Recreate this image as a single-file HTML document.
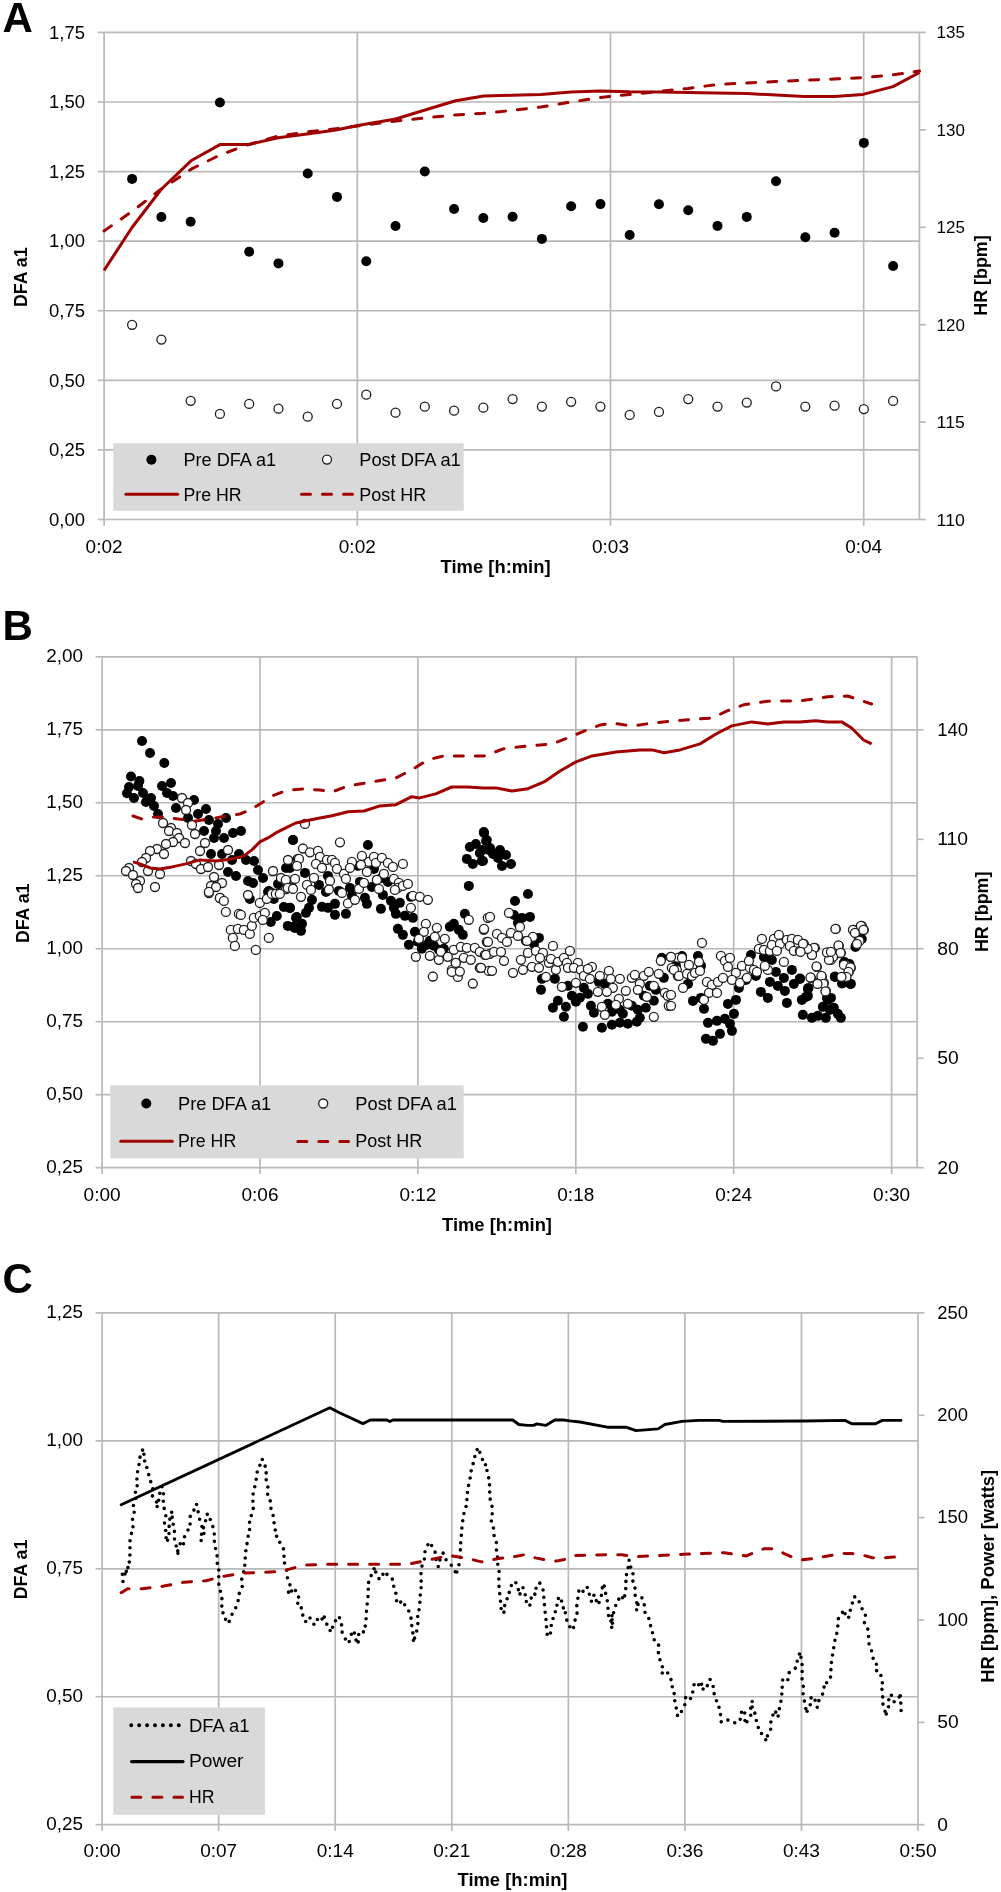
<!DOCTYPE html>
<html><head><meta charset="utf-8"><style>html,body{margin:0;padding:0;background:#fff;}svg{display:block;will-change:transform;}text{font-family:"Liberation Sans", sans-serif;}</style></head>
<body>
<svg width="1001" height="1892" viewBox="0 0 1001 1892" font-family='"Liberation Sans", sans-serif'>
<rect width="1001" height="1892" fill="#fff"/>
<line x1="104.1" y1="32.4" x2="919.4" y2="32.4" stroke="#b9b9b9" stroke-width="1.7" />
<line x1="97.6" y1="32.4" x2="104.1" y2="32.4" stroke="#b9b9b9" stroke-width="1.7" />
<line x1="104.1" y1="101.99" x2="919.4" y2="101.99" stroke="#b9b9b9" stroke-width="1.7" />
<line x1="97.6" y1="101.99" x2="104.1" y2="101.99" stroke="#b9b9b9" stroke-width="1.7" />
<line x1="104.1" y1="171.57" x2="919.4" y2="171.57" stroke="#b9b9b9" stroke-width="1.7" />
<line x1="97.6" y1="171.57" x2="104.1" y2="171.57" stroke="#b9b9b9" stroke-width="1.7" />
<line x1="104.1" y1="241.16" x2="919.4" y2="241.16" stroke="#b9b9b9" stroke-width="1.7" />
<line x1="97.6" y1="241.16" x2="104.1" y2="241.16" stroke="#b9b9b9" stroke-width="1.7" />
<line x1="104.1" y1="310.74" x2="919.4" y2="310.74" stroke="#b9b9b9" stroke-width="1.7" />
<line x1="97.6" y1="310.74" x2="104.1" y2="310.74" stroke="#b9b9b9" stroke-width="1.7" />
<line x1="104.1" y1="380.33" x2="919.4" y2="380.33" stroke="#b9b9b9" stroke-width="1.7" />
<line x1="97.6" y1="380.33" x2="104.1" y2="380.33" stroke="#b9b9b9" stroke-width="1.7" />
<line x1="104.1" y1="449.91" x2="919.4" y2="449.91" stroke="#b9b9b9" stroke-width="1.7" />
<line x1="97.6" y1="449.91" x2="104.1" y2="449.91" stroke="#b9b9b9" stroke-width="1.7" />
<line x1="104.1" y1="519.5" x2="919.4" y2="519.5" stroke="#b9b9b9" stroke-width="1.7" />
<line x1="97.6" y1="519.5" x2="104.1" y2="519.5" stroke="#b9b9b9" stroke-width="1.7" />
<line x1="357.3" y1="32.4" x2="357.3" y2="519.5" stroke="#b9b9b9" stroke-width="1.7" />
<line x1="357.3" y1="519.5" x2="357.3" y2="525.8" stroke="#b9b9b9" stroke-width="1.7" />
<line x1="610.5" y1="32.4" x2="610.5" y2="519.5" stroke="#b9b9b9" stroke-width="1.7" />
<line x1="610.5" y1="519.5" x2="610.5" y2="525.8" stroke="#b9b9b9" stroke-width="1.7" />
<line x1="863.7" y1="32.4" x2="863.7" y2="519.5" stroke="#b9b9b9" stroke-width="1.7" />
<line x1="863.7" y1="519.5" x2="863.7" y2="525.8" stroke="#b9b9b9" stroke-width="1.7" />
<line x1="104.1" y1="32.4" x2="104.1" y2="525.8" stroke="#b9b9b9" stroke-width="1.7" />
<line x1="919.4" y1="32.4" x2="919.4" y2="519.5" stroke="#b9b9b9" stroke-width="1.7" />
<line x1="919.4" y1="32.4" x2="925.9" y2="32.4" stroke="#b9b9b9" stroke-width="1.7" />
<line x1="919.4" y1="129.82" x2="925.9" y2="129.82" stroke="#b9b9b9" stroke-width="1.7" />
<line x1="919.4" y1="227.24" x2="925.9" y2="227.24" stroke="#b9b9b9" stroke-width="1.7" />
<line x1="919.4" y1="324.66" x2="925.9" y2="324.66" stroke="#b9b9b9" stroke-width="1.7" />
<line x1="919.4" y1="422.08" x2="925.9" y2="422.08" stroke="#b9b9b9" stroke-width="1.7" />
<line x1="919.4" y1="519.5" x2="925.9" y2="519.5" stroke="#b9b9b9" stroke-width="1.7" />
<text x="85" y="38.6" font-size="17.7" text-anchor="end" textLength="36" lengthAdjust="spacingAndGlyphs">1,75</text>
<text x="85" y="108.19" font-size="17.7" text-anchor="end" textLength="36" lengthAdjust="spacingAndGlyphs">1,50</text>
<text x="85" y="177.77" font-size="17.7" text-anchor="end" textLength="36" lengthAdjust="spacingAndGlyphs">1,25</text>
<text x="85" y="247.36" font-size="17.7" text-anchor="end" textLength="36" lengthAdjust="spacingAndGlyphs">1,00</text>
<text x="85" y="316.94" font-size="17.7" text-anchor="end" textLength="36" lengthAdjust="spacingAndGlyphs">0,75</text>
<text x="85" y="386.53" font-size="17.7" text-anchor="end" textLength="36" lengthAdjust="spacingAndGlyphs">0,50</text>
<text x="85" y="456.11" font-size="17.7" text-anchor="end" textLength="36" lengthAdjust="spacingAndGlyphs">0,25</text>
<text x="85" y="525.7" font-size="17.7" text-anchor="end" textLength="36" lengthAdjust="spacingAndGlyphs">0,00</text>
<text x="936.6" y="38.4" font-size="17.2" textLength="28.3" lengthAdjust="spacingAndGlyphs">135</text>
<text x="936.6" y="135.82" font-size="17.2" textLength="28.3" lengthAdjust="spacingAndGlyphs">130</text>
<text x="936.6" y="233.24" font-size="17.2" textLength="28.3" lengthAdjust="spacingAndGlyphs">125</text>
<text x="936.6" y="330.66" font-size="17.2" textLength="28.3" lengthAdjust="spacingAndGlyphs">120</text>
<text x="936.6" y="428.08" font-size="17.2" textLength="28.3" lengthAdjust="spacingAndGlyphs">115</text>
<text x="936.6" y="525.5" font-size="17.2" textLength="28.3" lengthAdjust="spacingAndGlyphs">110</text>
<text x="104.1" y="552.6" font-size="18.3" text-anchor="middle" textLength="37" lengthAdjust="spacingAndGlyphs">0:02</text>
<text x="357.3" y="552.6" font-size="18.3" text-anchor="middle" textLength="37" lengthAdjust="spacingAndGlyphs">0:02</text>
<text x="610.5" y="552.6" font-size="18.3" text-anchor="middle" textLength="37" lengthAdjust="spacingAndGlyphs">0:03</text>
<text x="863.7" y="552.6" font-size="18.3" text-anchor="middle" textLength="37" lengthAdjust="spacingAndGlyphs">0:04</text>
<text x="440.6" y="573" font-size="18.3" font-weight="bold" textLength="110" lengthAdjust="spacingAndGlyphs">Time [h:min]</text>
<text x="26.6" y="277.3" font-size="18.3" text-anchor="middle" font-weight="bold" textLength="59.6" lengthAdjust="spacingAndGlyphs" transform="rotate(-90 26.6 277.3)">DFA a1</text>
<text x="986.6" y="275.5" font-size="18.3" text-anchor="middle" font-weight="bold" textLength="80.5" lengthAdjust="spacingAndGlyphs" transform="rotate(-90 986.6 275.5)">HR [bpm]</text>
<text x="2.5" y="32.2" font-size="42" font-weight="bold">A</text>
<g fill="#000"><circle cx="132.1" cy="178.9" r="5"/><circle cx="161.37" cy="217" r="5"/><circle cx="190.64" cy="221.7" r="5"/><circle cx="219.91" cy="102.5" r="5"/><circle cx="249.18" cy="251.7" r="5"/><circle cx="278.45" cy="263.4" r="5"/><circle cx="307.72" cy="173.5" r="5"/><circle cx="336.99" cy="196.9" r="5"/><circle cx="366.26" cy="261.3" r="5"/><circle cx="395.53" cy="226" r="5"/><circle cx="424.8" cy="171.5" r="5"/><circle cx="454.07" cy="209" r="5"/><circle cx="483.34" cy="218" r="5"/><circle cx="512.61" cy="216.7" r="5"/><circle cx="541.88" cy="238.9" r="5"/><circle cx="571.15" cy="206.2" r="5"/><circle cx="600.42" cy="204.1" r="5"/><circle cx="629.69" cy="235" r="5"/><circle cx="658.96" cy="204.3" r="5"/><circle cx="688.23" cy="210.3" r="5"/><circle cx="717.5" cy="225.9" r="5"/><circle cx="746.77" cy="216.9" r="5"/><circle cx="776.04" cy="181.3" r="5"/><circle cx="805.31" cy="237.3" r="5"/><circle cx="834.58" cy="232.8" r="5"/><circle cx="863.85" cy="142.9" r="5"/><circle cx="893.12" cy="266" r="5"/></g>
<g fill="#fff" stroke="#1e1e1e" stroke-width="1.3"><circle cx="132.1" cy="324.8" r="4.5"/><circle cx="161.37" cy="339.6" r="4.5"/><circle cx="190.64" cy="400.8" r="4.5"/><circle cx="219.91" cy="413.9" r="4.5"/><circle cx="249.18" cy="403.9" r="4.5"/><circle cx="278.45" cy="408.7" r="4.5"/><circle cx="307.72" cy="416.7" r="4.5"/><circle cx="336.99" cy="403.9" r="4.5"/><circle cx="366.26" cy="394.7" r="4.5"/><circle cx="395.53" cy="412.7" r="4.5"/><circle cx="424.8" cy="406.7" r="4.5"/><circle cx="454.07" cy="410.7" r="4.5"/><circle cx="483.34" cy="407.7" r="4.5"/><circle cx="512.61" cy="399.1" r="4.5"/><circle cx="541.88" cy="406.6" r="4.5"/><circle cx="571.15" cy="401.8" r="4.5"/><circle cx="600.42" cy="406.6" r="4.5"/><circle cx="629.69" cy="414.9" r="4.5"/><circle cx="658.96" cy="411.9" r="4.5"/><circle cx="688.23" cy="399.1" r="4.5"/><circle cx="717.5" cy="406.6" r="4.5"/><circle cx="746.77" cy="402.6" r="4.5"/><circle cx="776.04" cy="386.4" r="4.5"/><circle cx="805.31" cy="406.6" r="4.5"/><circle cx="834.58" cy="405.7" r="4.5"/><circle cx="863.85" cy="409.1" r="4.5"/><circle cx="893.12" cy="400.9" r="4.5"/></g>
<polyline points="104,270.5 132,227.5 161.5,189 191,160.8 220,144.6 248.5,144.6 278,137.8 307,134 336,130 357.7,125.5 395.7,119 425,110 455.6,100.8 483.6,96 512,95.3 541,94.5 571,92 600,90.9 629.6,91.8 659,92 688,92.5 717,93 747,93.5 776,95 804,96.4 834,96.4 863,94.4 893,86.6 919.5,72.5" fill="none" stroke="#a00000" stroke-width="3" stroke-linecap="butt" stroke-linejoin="round"/>
<polyline points="104,231 132,211.5 160,190 192,168.7 220,155 248,144.7 278,136 307,132 336,128.7 366,125 396,121 425,118 454,115 483,113.3 512,110.5 541,107 571,102 600,97.5 629.6,94.5 659,91.5 688,88.4 717,84.5 747,83 776,81.5 804,80.3 834,79 863,77.6 893,74.9 919.5,71" fill="none" stroke="#a00000" stroke-width="3" stroke-linecap="round" stroke-linejoin="round" stroke-dasharray="9 12"/>
<rect x="113.3" y="443.3" width="350.4" height="67.5" fill="#d9d9d9"/>
<g fill="#000"><circle cx="151.4" cy="459.8" r="5"/></g>
<g fill="#fff" stroke="#1e1e1e" stroke-width="1.3"><circle cx="327" cy="459.6" r="4.5"/></g>
<text x="183.4" y="466.1" font-size="18.3" textLength="92.8" lengthAdjust="spacingAndGlyphs">Pre DFA a1</text>
<text x="359.2" y="466.1" font-size="18.3" textLength="101.6" lengthAdjust="spacingAndGlyphs">Post DFA a1</text>
<line x1="125.9" y1="494.2" x2="177.7" y2="494.2" stroke="#a00000" stroke-width="3" stroke-linecap="round"/>
<line x1="301.5" y1="494.2" x2="352.5" y2="494.2" stroke="#a00000" stroke-width="3" stroke-dasharray="9 12" stroke-linecap="round"/>
<text x="183.4" y="500.6" font-size="18.3" textLength="58.2" lengthAdjust="spacingAndGlyphs">Pre HR</text>
<text x="359.2" y="500.6" font-size="18.3" textLength="67" lengthAdjust="spacingAndGlyphs">Post HR</text>
<line x1="102.1" y1="656.8" x2="917.1" y2="656.8" stroke="#b9b9b9" stroke-width="1.7" />
<line x1="95.6" y1="656.8" x2="102.1" y2="656.8" stroke="#b9b9b9" stroke-width="1.7" />
<line x1="102.1" y1="729.79" x2="917.1" y2="729.79" stroke="#b9b9b9" stroke-width="1.7" />
<line x1="95.6" y1="729.79" x2="102.1" y2="729.79" stroke="#b9b9b9" stroke-width="1.7" />
<line x1="102.1" y1="802.77" x2="917.1" y2="802.77" stroke="#b9b9b9" stroke-width="1.7" />
<line x1="95.6" y1="802.77" x2="102.1" y2="802.77" stroke="#b9b9b9" stroke-width="1.7" />
<line x1="102.1" y1="875.76" x2="917.1" y2="875.76" stroke="#b9b9b9" stroke-width="1.7" />
<line x1="95.6" y1="875.76" x2="102.1" y2="875.76" stroke="#b9b9b9" stroke-width="1.7" />
<line x1="102.1" y1="948.74" x2="917.1" y2="948.74" stroke="#b9b9b9" stroke-width="1.7" />
<line x1="95.6" y1="948.74" x2="102.1" y2="948.74" stroke="#b9b9b9" stroke-width="1.7" />
<line x1="102.1" y1="1021.73" x2="917.1" y2="1021.73" stroke="#b9b9b9" stroke-width="1.7" />
<line x1="95.6" y1="1021.73" x2="102.1" y2="1021.73" stroke="#b9b9b9" stroke-width="1.7" />
<line x1="102.1" y1="1094.71" x2="917.1" y2="1094.71" stroke="#b9b9b9" stroke-width="1.7" />
<line x1="95.6" y1="1094.71" x2="102.1" y2="1094.71" stroke="#b9b9b9" stroke-width="1.7" />
<line x1="102.1" y1="1167.7" x2="917.1" y2="1167.7" stroke="#b9b9b9" stroke-width="1.7" />
<line x1="95.6" y1="1167.7" x2="102.1" y2="1167.7" stroke="#b9b9b9" stroke-width="1.7" />
<line x1="260" y1="656.8" x2="260" y2="1167.7" stroke="#b9b9b9" stroke-width="1.7" />
<line x1="260" y1="1167.7" x2="260" y2="1174" stroke="#b9b9b9" stroke-width="1.7" />
<line x1="417.9" y1="656.8" x2="417.9" y2="1167.7" stroke="#b9b9b9" stroke-width="1.7" />
<line x1="417.9" y1="1167.7" x2="417.9" y2="1174" stroke="#b9b9b9" stroke-width="1.7" />
<line x1="575.8" y1="656.8" x2="575.8" y2="1167.7" stroke="#b9b9b9" stroke-width="1.7" />
<line x1="575.8" y1="1167.7" x2="575.8" y2="1174" stroke="#b9b9b9" stroke-width="1.7" />
<line x1="733.7" y1="656.8" x2="733.7" y2="1167.7" stroke="#b9b9b9" stroke-width="1.7" />
<line x1="733.7" y1="1167.7" x2="733.7" y2="1174" stroke="#b9b9b9" stroke-width="1.7" />
<line x1="891.6" y1="656.8" x2="891.6" y2="1167.7" stroke="#b9b9b9" stroke-width="1.7" />
<line x1="891.6" y1="1167.7" x2="891.6" y2="1174" stroke="#b9b9b9" stroke-width="1.7" />
<line x1="102.1" y1="656.8" x2="102.1" y2="1174" stroke="#b9b9b9" stroke-width="1.7" />
<line x1="917.1" y1="656.8" x2="917.1" y2="1167.7" stroke="#b9b9b9" stroke-width="1.7" />
<line x1="917.1" y1="729.8" x2="923.6" y2="729.8" stroke="#b9b9b9" stroke-width="1.7" />
<line x1="917.1" y1="839.28" x2="923.6" y2="839.28" stroke="#b9b9b9" stroke-width="1.7" />
<line x1="917.1" y1="948.76" x2="923.6" y2="948.76" stroke="#b9b9b9" stroke-width="1.7" />
<line x1="917.1" y1="1058.24" x2="923.6" y2="1058.24" stroke="#b9b9b9" stroke-width="1.7" />
<line x1="917.1" y1="1167.72" x2="923.6" y2="1167.72" stroke="#b9b9b9" stroke-width="1.7" />
<text x="83" y="662.1" font-size="18.3" text-anchor="end" textLength="36.8" lengthAdjust="spacingAndGlyphs">2,00</text>
<text x="83" y="735.09" font-size="18.3" text-anchor="end" textLength="36.8" lengthAdjust="spacingAndGlyphs">1,75</text>
<text x="83" y="808.07" font-size="18.3" text-anchor="end" textLength="36.8" lengthAdjust="spacingAndGlyphs">1,50</text>
<text x="83" y="881.06" font-size="18.3" text-anchor="end" textLength="36.8" lengthAdjust="spacingAndGlyphs">1,25</text>
<text x="83" y="954.04" font-size="18.3" text-anchor="end" textLength="36.8" lengthAdjust="spacingAndGlyphs">1,00</text>
<text x="83" y="1027.03" font-size="18.3" text-anchor="end" textLength="36.8" lengthAdjust="spacingAndGlyphs">0,75</text>
<text x="83" y="1100.01" font-size="18.3" text-anchor="end" textLength="36.8" lengthAdjust="spacingAndGlyphs">0,50</text>
<text x="83" y="1173" font-size="18.3" text-anchor="end" textLength="36.8" lengthAdjust="spacingAndGlyphs">0,25</text>
<text x="937.3" y="735.6" font-size="19.2" textLength="30.8" lengthAdjust="spacingAndGlyphs">140</text>
<text x="937.3" y="845.08" font-size="19.2" textLength="30.8" lengthAdjust="spacingAndGlyphs">110</text>
<text x="937.3" y="954.56" font-size="19.2" textLength="21.5" lengthAdjust="spacingAndGlyphs">80</text>
<text x="937.3" y="1064.04" font-size="19.2" textLength="21.5" lengthAdjust="spacingAndGlyphs">50</text>
<text x="937.3" y="1173.52" font-size="19.2" textLength="21.5" lengthAdjust="spacingAndGlyphs">20</text>
<text x="102.1" y="1201.1" font-size="18.3" text-anchor="middle" textLength="37" lengthAdjust="spacingAndGlyphs">0:00</text>
<text x="260" y="1201.1" font-size="18.3" text-anchor="middle" textLength="37" lengthAdjust="spacingAndGlyphs">0:06</text>
<text x="417.9" y="1201.1" font-size="18.3" text-anchor="middle" textLength="37" lengthAdjust="spacingAndGlyphs">0:12</text>
<text x="575.8" y="1201.1" font-size="18.3" text-anchor="middle" textLength="37" lengthAdjust="spacingAndGlyphs">0:18</text>
<text x="733.7" y="1201.1" font-size="18.3" text-anchor="middle" textLength="37" lengthAdjust="spacingAndGlyphs">0:24</text>
<text x="891.6" y="1201.1" font-size="18.3" text-anchor="middle" textLength="37" lengthAdjust="spacingAndGlyphs">0:30</text>
<text x="442" y="1231.4" font-size="18.3" font-weight="bold" textLength="110" lengthAdjust="spacingAndGlyphs">Time [h:min]</text>
<text x="29" y="913.3" font-size="18.3" text-anchor="middle" font-weight="bold" textLength="59.6" lengthAdjust="spacingAndGlyphs" transform="rotate(-90 29 913.3)">DFA a1</text>
<text x="988" y="911.8" font-size="18.3" text-anchor="middle" font-weight="bold" textLength="80.5" lengthAdjust="spacingAndGlyphs" transform="rotate(-90 988 911.8)">HR [bpm]</text>
<text x="2.5" y="639.6" font-size="42" font-weight="bold">B</text>
<g fill="#000"><circle cx="142" cy="741" r="5"/><circle cx="150" cy="753" r="5"/><circle cx="164.3" cy="763" r="5"/><circle cx="131" cy="776.5" r="5"/><circle cx="139.4" cy="781" r="5"/><circle cx="129" cy="787" r="5"/><circle cx="138" cy="786" r="5"/><circle cx="127" cy="793.3" r="5"/><circle cx="134" cy="798" r="5"/><circle cx="143" cy="793" r="5"/><circle cx="146" cy="802" r="5"/><circle cx="151" cy="798" r="5"/><circle cx="154" cy="806" r="5"/><circle cx="162" cy="786" r="5"/><circle cx="171" cy="783" r="5"/><circle cx="167" cy="793" r="5"/><circle cx="173" cy="796" r="5"/><circle cx="158" cy="814" r="5"/><circle cx="176" cy="808" r="5"/><circle cx="194" cy="800" r="5"/><circle cx="188" cy="818" r="5"/><circle cx="206" cy="809" r="5"/><circle cx="198" cy="814" r="5"/><circle cx="209" cy="820" r="5"/><circle cx="226" cy="818" r="5"/><circle cx="218" cy="824" r="5"/><circle cx="204" cy="831" r="5"/><circle cx="216" cy="831" r="5"/><circle cx="214" cy="838" r="5"/><circle cx="224" cy="838" r="5"/><circle cx="233" cy="833" r="5"/><circle cx="241" cy="831" r="5"/><circle cx="211" cy="854" r="5"/><circle cx="222" cy="854" r="5"/><circle cx="239" cy="854" r="5"/><circle cx="232" cy="860" r="5"/><circle cx="228" cy="872" r="5"/><circle cx="236" cy="876" r="5"/><circle cx="246" cy="860" r="5"/><circle cx="254" cy="861" r="5"/><circle cx="258" cy="870" r="5"/><circle cx="263" cy="878" r="5"/><circle cx="248" cy="881" r="5"/><circle cx="253" cy="883" r="5"/><circle cx="293" cy="840" r="5"/><circle cx="286" cy="868" r="5"/><circle cx="278" cy="884" r="5"/><circle cx="268" cy="892" r="5"/><circle cx="249.85" cy="898.94" r="5"/><circle cx="278.82" cy="883.96" r="5"/><circle cx="268.83" cy="890.95" r="5"/><circle cx="273.83" cy="898.94" r="5"/><circle cx="283.82" cy="906.93" r="5"/><circle cx="289.81" cy="907.93" r="5"/><circle cx="276.82" cy="915.92" r="5"/><circle cx="270.83" cy="921.92" r="5"/><circle cx="296.8" cy="916.92" r="5"/><circle cx="287.81" cy="925.91" r="5"/><circle cx="294.81" cy="927.91" r="5"/><circle cx="293" cy="839.93" r="5"/><circle cx="367.92" cy="844.93" r="5"/><circle cx="304.99" cy="872.9" r="5"/><circle cx="290" cy="867.9" r="5"/><circle cx="318.97" cy="884.89" r="5"/><circle cx="327.96" cy="875.89" r="5"/><circle cx="325.96" cy="891.88" r="5"/><circle cx="311.98" cy="899.87" r="5"/><circle cx="308.98" cy="907.86" r="5"/><circle cx="305.98" cy="912.86" r="5"/><circle cx="295.99" cy="917.85" r="5"/><circle cx="301.99" cy="923.85" r="5"/><circle cx="294" cy="926.84" r="5"/><circle cx="300.99" cy="930.84" r="5"/><circle cx="290" cy="907.86" r="5"/><circle cx="321.97" cy="906.86" r="5"/><circle cx="327.96" cy="907.86" r="5"/><circle cx="334.96" cy="903.87" r="5"/><circle cx="334.96" cy="914.86" r="5"/><circle cx="338.95" cy="890.88" r="5"/><circle cx="345.94" cy="913.86" r="5"/><circle cx="349.94" cy="887.88" r="5"/><circle cx="351.94" cy="895.87" r="5"/><circle cx="357.93" cy="865.9" r="5"/><circle cx="359.93" cy="881.89" r="5"/><circle cx="364.93" cy="897.87" r="5"/><circle cx="366.92" cy="903.87" r="5"/><circle cx="371.92" cy="886.88" r="5"/><circle cx="373.92" cy="868.9" r="5"/><circle cx="381.91" cy="877.89" r="5"/><circle cx="382.91" cy="894.88" r="5"/><circle cx="387.9" cy="881.89" r="5"/><circle cx="390.9" cy="900.87" r="5"/><circle cx="393.9" cy="907.86" r="5"/><circle cx="380.91" cy="908.86" r="5"/><circle cx="395.89" cy="913.86" r="5"/><circle cx="399.89" cy="902.87" r="5"/><circle cx="404.89" cy="915.85" r="5"/><circle cx="410.88" cy="896.87" r="5"/><circle cx="412.88" cy="917.85" r="5"/><circle cx="397.89" cy="928.84" r="5"/><circle cx="402.89" cy="934.84" r="5"/><circle cx="408.88" cy="944.83" r="5"/><circle cx="414.88" cy="931.84" r="5"/><circle cx="417.87" cy="941.83" r="5"/><circle cx="421.87" cy="948.82" r="5"/><circle cx="426.86" cy="944.83" r="5"/><circle cx="429.86" cy="940.83" r="5"/><circle cx="433.86" cy="945.82" r="5"/><circle cx="438.85" cy="949.82" r="5"/><circle cx="443.85" cy="948.82" r="5"/><circle cx="449.84" cy="926.84" r="5"/><circle cx="453.84" cy="923.85" r="5"/><circle cx="458.83" cy="929.84" r="5"/><circle cx="462.83" cy="934.84" r="5"/><circle cx="464.83" cy="913.86" r="5"/><circle cx="468.82" cy="885.88" r="5"/><circle cx="466.82" cy="858.91" r="5"/><circle cx="472.82" cy="863.91" r="5"/><circle cx="481.81" cy="860.91" r="5"/><circle cx="479.81" cy="852.92" r="5"/><circle cx="469.82" cy="846.92" r="5"/><circle cx="475.81" cy="843.93" r="5"/><circle cx="483.81" cy="831.94" r="5"/><circle cx="486.8" cy="839.93" r="5"/><circle cx="488.8" cy="849.92" r="5"/><circle cx="484" cy="833" r="5"/><circle cx="485.99" cy="840.99" r="5"/><circle cx="482" cy="849.98" r="5"/><circle cx="489.99" cy="847.98" r="5"/><circle cx="492.99" cy="853.98" r="5"/><circle cx="499.98" cy="849.98" r="5"/><circle cx="497.98" cy="857.97" r="5"/><circle cx="505.97" cy="854.98" r="5"/><circle cx="483" cy="860.97" r="5"/><circle cx="501.98" cy="865.96" r="5"/><circle cx="510.97" cy="863.97" r="5"/><circle cx="527.95" cy="893.94" r="5"/><circle cx="514.97" cy="900.93" r="5"/><circle cx="513.97" cy="914.92" r="5"/><circle cx="521.96" cy="917.91" r="5"/><circle cx="529.95" cy="916.91" r="5"/><circle cx="517.96" cy="922.91" r="5"/><circle cx="525.95" cy="940.89" r="5"/><circle cx="533.95" cy="943.89" r="5"/><circle cx="538.94" cy="937.89" r="5"/><circle cx="541.94" cy="978.85" r="5"/><circle cx="540.94" cy="989.84" r="5"/><circle cx="554.93" cy="978.85" r="5"/><circle cx="557.92" cy="1000.83" r="5"/><circle cx="552.93" cy="1007.82" r="5"/><circle cx="565.91" cy="1006.82" r="5"/><circle cx="563.92" cy="1016.81" r="5"/><circle cx="567.91" cy="985.84" r="5"/><circle cx="571.91" cy="995.83" r="5"/><circle cx="575.9" cy="1001.83" r="5"/><circle cx="579.9" cy="997.83" r="5"/><circle cx="583.9" cy="987.84" r="5"/><circle cx="587.89" cy="993.84" r="5"/><circle cx="590.89" cy="1005.82" r="5"/><circle cx="593.89" cy="1012.82" r="5"/><circle cx="598.88" cy="981.85" r="5"/><circle cx="604.88" cy="983.85" r="5"/><circle cx="607.87" cy="1003.83" r="5"/><circle cx="611.87" cy="1011.82" r="5"/><circle cx="619.86" cy="1009.82" r="5"/><circle cx="622.86" cy="1013.82" r="5"/><circle cx="631.85" cy="1005.82" r="5"/><circle cx="637.84" cy="1009.82" r="5"/><circle cx="639.84" cy="1017.81" r="5"/><circle cx="645.83" cy="1007.82" r="5"/><circle cx="653.83" cy="1000.83" r="5"/><circle cx="649.83" cy="985.84" r="5"/><circle cx="643.84" cy="995.83" r="5"/><circle cx="655.82" cy="989.84" r="5"/><circle cx="661.82" cy="957.87" r="5"/><circle cx="663.82" cy="977.85" r="5"/><circle cx="582.9" cy="1026.8" r="5"/><circle cx="601.88" cy="1027.8" r="5"/><circle cx="611.87" cy="1024.81" r="5"/><circle cx="619.86" cy="1022.81" r="5"/><circle cx="627.85" cy="1023.81" r="5"/><circle cx="636.84" cy="1021.81" r="5"/><circle cx="681.99" cy="955.92" r="5"/><circle cx="697.97" cy="955.92" r="5"/><circle cx="700.97" cy="965.91" r="5"/><circle cx="687.98" cy="983.9" r="5"/><circle cx="675.99" cy="965.91" r="5"/><circle cx="692.98" cy="1000.88" r="5"/><circle cx="703.97" cy="1008.87" r="5"/><circle cx="700.97" cy="997.88" r="5"/><circle cx="727.94" cy="1003.88" r="5"/><circle cx="735.93" cy="999.88" r="5"/><circle cx="733.94" cy="1013.87" r="5"/><circle cx="707.96" cy="1022.86" r="5"/><circle cx="716.95" cy="1020.86" r="5"/><circle cx="724.95" cy="1018.86" r="5"/><circle cx="729.94" cy="1023.86" r="5"/><circle cx="731.94" cy="1030.85" r="5"/><circle cx="719.95" cy="1033.85" r="5"/><circle cx="705.96" cy="1038.84" r="5"/><circle cx="712.96" cy="1040.84" r="5"/><circle cx="738.93" cy="987.89" r="5"/><circle cx="745.92" cy="979.9" r="5"/><circle cx="750.92" cy="954.93" r="5"/><circle cx="755.91" cy="975.9" r="5"/><circle cx="763.91" cy="956.92" r="5"/><circle cx="771.9" cy="959.92" r="5"/><circle cx="769.9" cy="981.9" r="5"/><circle cx="775.89" cy="971.91" r="5"/><circle cx="777.89" cy="985.89" r="5"/><circle cx="783.89" cy="977.9" r="5"/><circle cx="784.89" cy="990.89" r="5"/><circle cx="791.88" cy="969.91" r="5"/><circle cx="793.88" cy="983.9" r="5"/><circle cx="799.87" cy="978.9" r="5"/><circle cx="760.91" cy="991.89" r="5"/><circle cx="767.9" cy="997.88" r="5"/><circle cx="786.88" cy="1002.88" r="5"/><circle cx="801.87" cy="999.88" r="5"/><circle cx="807.86" cy="988.89" r="5"/><circle cx="807.86" cy="995.88" r="5"/><circle cx="802.87" cy="1014.87" r="5"/><circle cx="811.86" cy="1017.86" r="5"/><circle cx="817.85" cy="1015.86" r="5"/><circle cx="822.85" cy="1006.87" r="5"/><circle cx="827.84" cy="999.88" r="5"/><circle cx="829.84" cy="1009.87" r="5"/><circle cx="837.83" cy="1013.87" r="5"/><circle cx="840.83" cy="1017.86" r="5"/><circle cx="833.84" cy="1007.87" r="5"/><circle cx="825.84" cy="1017.86" r="5"/><circle cx="834.84" cy="976.9" r="5"/><circle cx="842.83" cy="982.9" r="5"/><circle cx="850.82" cy="983.9" r="5"/><circle cx="843.83" cy="962.92" r="5"/><circle cx="855.81" cy="945.93" r="5"/><circle cx="861.81" cy="938.94" r="5"/><circle cx="855.44" cy="946.95" r="5"/><circle cx="860.94" cy="938.96" r="5"/><circle cx="844.46" cy="961.94" r="5"/><circle cx="849.45" cy="963.94" r="5"/><circle cx="834.97" cy="976.42" r="5"/><circle cx="841.96" cy="983.42" r="5"/><circle cx="850.45" cy="983.92" r="5"/><circle cx="808.49" cy="987.91" r="5"/><circle cx="800" cy="978.42" r="5"/><circle cx="805.99" cy="996.9" r="5"/><circle cx="826.97" cy="997.9" r="5"/><circle cx="830.97" cy="997.9" r="5"/></g>
<g fill="#fff" stroke="#1e1e1e" stroke-width="1.3"><circle cx="182" cy="798" r="4.5"/><circle cx="188" cy="803" r="4.5"/><circle cx="186" cy="810" r="4.5"/><circle cx="163" cy="823" r="4.5"/><circle cx="171" cy="828" r="4.5"/><circle cx="169" cy="831" r="4.5"/><circle cx="177" cy="833" r="4.5"/><circle cx="179" cy="838" r="4.5"/><circle cx="185" cy="843" r="4.5"/><circle cx="173" cy="842" r="4.5"/><circle cx="192" cy="825" r="4.5"/><circle cx="195" cy="834" r="4.5"/><circle cx="205" cy="843" r="4.5"/><circle cx="200" cy="851" r="4.5"/><circle cx="228" cy="850" r="4.5"/><circle cx="166" cy="844" r="4.5"/><circle cx="157" cy="849" r="4.5"/><circle cx="150" cy="851" r="4.5"/><circle cx="146" cy="858" r="4.5"/><circle cx="164" cy="854" r="4.5"/><circle cx="129" cy="868" r="4.5"/><circle cx="126" cy="871" r="4.5"/><circle cx="133" cy="875" r="4.5"/><circle cx="140" cy="881" r="4.5"/><circle cx="136" cy="884" r="4.5"/><circle cx="138" cy="888" r="4.5"/><circle cx="155" cy="887" r="4.5"/><circle cx="160" cy="874" r="4.5"/><circle cx="148" cy="871" r="4.5"/><circle cx="142" cy="862" r="4.5"/><circle cx="191" cy="861" r="4.5"/><circle cx="196" cy="864" r="4.5"/><circle cx="201" cy="869" r="4.5"/><circle cx="208" cy="867" r="4.5"/><circle cx="219" cy="865" r="4.5"/><circle cx="214" cy="877" r="4.5"/><circle cx="222" cy="883" r="4.5"/><circle cx="211" cy="886" r="4.5"/><circle cx="216" cy="887" r="4.5"/><circle cx="209" cy="893" r="4.5"/><circle cx="220" cy="898" r="4.5"/><circle cx="248" cy="895" r="4.5"/><circle cx="273" cy="871" r="4.5"/><circle cx="288" cy="860" r="4.5"/><circle cx="297" cy="860" r="4.5"/><circle cx="281" cy="878" r="4.5"/><circle cx="286" cy="881" r="4.5"/><circle cx="292" cy="888" r="4.5"/><circle cx="286" cy="889" r="4.5"/><circle cx="272" cy="893" r="4.5"/><circle cx="208.89" cy="891.95" r="4.5"/><circle cx="219.88" cy="897.94" r="4.5"/><circle cx="223.88" cy="900.94" r="4.5"/><circle cx="225.87" cy="911.93" r="4.5"/><circle cx="238.86" cy="913.93" r="4.5"/><circle cx="240.86" cy="914.93" r="4.5"/><circle cx="230.87" cy="929.91" r="4.5"/><circle cx="237.86" cy="928.91" r="4.5"/><circle cx="243.86" cy="929.91" r="4.5"/><circle cx="249.85" cy="933.91" r="4.5"/><circle cx="251.85" cy="925.91" r="4.5"/><circle cx="253.85" cy="917.92" r="4.5"/><circle cx="259.84" cy="915.92" r="4.5"/><circle cx="264.84" cy="912.93" r="4.5"/><circle cx="262.84" cy="919.92" r="4.5"/><circle cx="232.87" cy="937.9" r="4.5"/><circle cx="234.87" cy="945.89" r="4.5"/><circle cx="255.84" cy="949.89" r="4.5"/><circle cx="268.83" cy="937.9" r="4.5"/><circle cx="259.84" cy="902.94" r="4.5"/><circle cx="266.83" cy="898.94" r="4.5"/><circle cx="271.83" cy="893.95" r="4.5"/><circle cx="275.82" cy="893.95" r="4.5"/><circle cx="279.82" cy="893.95" r="4.5"/><circle cx="285.81" cy="879.96" r="4.5"/><circle cx="291.81" cy="887.95" r="4.5"/><circle cx="287.81" cy="887.95" r="4.5"/><circle cx="297.8" cy="858.98" r="4.5"/><circle cx="304.99" cy="823.95" r="4.5"/><circle cx="339.95" cy="842.33" r="4.5"/><circle cx="302.99" cy="848.52" r="4.5"/><circle cx="309.98" cy="852.32" r="4.5"/><circle cx="317.97" cy="850.92" r="4.5"/><circle cx="298.99" cy="858.91" r="4.5"/><circle cx="296.99" cy="865.9" r="4.5"/><circle cx="319.97" cy="856.91" r="4.5"/><circle cx="315.97" cy="863.91" r="4.5"/><circle cx="321.97" cy="867.9" r="4.5"/><circle cx="326.96" cy="859.91" r="4.5"/><circle cx="331.96" cy="859.91" r="4.5"/><circle cx="334.96" cy="862.91" r="4.5"/><circle cx="336.95" cy="868.9" r="4.5"/><circle cx="343.95" cy="873.9" r="4.5"/><circle cx="345.94" cy="878.89" r="4.5"/><circle cx="351.94" cy="861.91" r="4.5"/><circle cx="349.94" cy="867.9" r="4.5"/><circle cx="361.93" cy="855.91" r="4.5"/><circle cx="368.92" cy="861.91" r="4.5"/><circle cx="360.93" cy="864.91" r="4.5"/><circle cx="366.92" cy="871.9" r="4.5"/><circle cx="373.92" cy="856.91" r="4.5"/><circle cx="375.91" cy="862.91" r="4.5"/><circle cx="381.91" cy="857.91" r="4.5"/><circle cx="387.9" cy="862.91" r="4.5"/><circle cx="392.9" cy="866.9" r="4.5"/><circle cx="383.91" cy="873.9" r="4.5"/><circle cx="402.89" cy="863.91" r="4.5"/><circle cx="313.98" cy="877.89" r="4.5"/><circle cx="295" cy="878.89" r="4.5"/><circle cx="293" cy="888.88" r="4.5"/><circle cx="306.98" cy="884.89" r="4.5"/><circle cx="310.98" cy="889.88" r="4.5"/><circle cx="300.99" cy="896.87" r="4.5"/><circle cx="329.96" cy="880.89" r="4.5"/><circle cx="328.96" cy="889.48" r="4.5"/><circle cx="341.95" cy="892.88" r="4.5"/><circle cx="347.94" cy="903.47" r="4.5"/><circle cx="354.94" cy="899.87" r="4.5"/><circle cx="358.93" cy="888.88" r="4.5"/><circle cx="363.93" cy="882.89" r="4.5"/><circle cx="376.91" cy="879.89" r="4.5"/><circle cx="378.91" cy="888.88" r="4.5"/><circle cx="393.9" cy="878.89" r="4.5"/><circle cx="398.89" cy="882.89" r="4.5"/><circle cx="397.89" cy="887.88" r="4.5"/><circle cx="402.89" cy="885.88" r="4.5"/><circle cx="407.88" cy="883.89" r="4.5"/><circle cx="394.9" cy="889.88" r="4.5"/><circle cx="412.88" cy="895.87" r="4.5"/><circle cx="419.87" cy="896.87" r="4.5"/><circle cx="427.86" cy="899.87" r="4.5"/><circle cx="410.88" cy="907.86" r="4.5"/><circle cx="425.86" cy="923.85" r="4.5"/><circle cx="423.87" cy="931.84" r="4.5"/><circle cx="436.85" cy="927.84" r="4.5"/><circle cx="434.86" cy="936.83" r="4.5"/><circle cx="418.87" cy="938.83" r="4.5"/><circle cx="444.85" cy="938.83" r="4.5"/><circle cx="453.84" cy="949.82" r="4.5"/><circle cx="460.83" cy="946.82" r="4.5"/><circle cx="466.82" cy="947.82" r="4.5"/><circle cx="474.82" cy="947.82" r="4.5"/><circle cx="479.81" cy="951.82" r="4.5"/><circle cx="484.81" cy="954.82" r="4.5"/><circle cx="489.8" cy="953.82" r="4.5"/><circle cx="468.82" cy="919.85" r="4.5"/><circle cx="487.8" cy="917.85" r="4.5"/><circle cx="483.81" cy="929.84" r="4.5"/><circle cx="486.8" cy="941.83" r="4.5"/><circle cx="415.87" cy="956.81" r="4.5"/><circle cx="429.86" cy="955.81" r="4.5"/><circle cx="438.85" cy="959.81" r="4.5"/><circle cx="440.85" cy="951.82" r="4.5"/><circle cx="447.84" cy="956.81" r="4.5"/><circle cx="455.83" cy="962.81" r="4.5"/><circle cx="463.83" cy="957.81" r="4.5"/><circle cx="470.82" cy="959.81" r="4.5"/><circle cx="480.81" cy="967.8" r="4.5"/><circle cx="451.84" cy="969.8" r="4.5"/><circle cx="432.86" cy="976.52" r="4.5"/><circle cx="457.83" cy="976.92" r="4.5"/><circle cx="472.82" cy="983.52" r="4.5"/><circle cx="479.81" cy="967.93" r="4.5"/><circle cx="488.8" cy="970.93" r="4.5"/><circle cx="451.84" cy="971.93" r="4.5"/><circle cx="459.83" cy="971.53" r="4.5"/><circle cx="455.83" cy="962.94" r="4.5"/><circle cx="489.99" cy="916.91" r="4.5"/><circle cx="508.97" cy="912.92" r="4.5"/><circle cx="484" cy="928.9" r="4.5"/><circle cx="496.98" cy="933.9" r="4.5"/><circle cx="501.98" cy="937.89" r="4.5"/><circle cx="506.97" cy="941.89" r="4.5"/><circle cx="487.99" cy="941.89" r="4.5"/><circle cx="510.97" cy="932.9" r="4.5"/><circle cx="517.96" cy="935.89" r="4.5"/><circle cx="519.96" cy="926.9" r="4.5"/><circle cx="532.95" cy="936.89" r="4.5"/><circle cx="526.95" cy="940.89" r="4.5"/><circle cx="552.93" cy="945.88" r="4.5"/><circle cx="569.91" cy="950.88" r="4.5"/><circle cx="485.99" cy="954.88" r="4.5"/><circle cx="493.99" cy="951.88" r="4.5"/><circle cx="500.98" cy="951.88" r="4.5"/><circle cx="503.98" cy="960.87" r="4.5"/><circle cx="481" cy="967.86" r="4.5"/><circle cx="491.99" cy="970.86" r="4.5"/><circle cx="512.97" cy="972.86" r="4.5"/><circle cx="522.96" cy="969.86" r="4.5"/><circle cx="520.96" cy="959.87" r="4.5"/><circle cx="527.95" cy="952.88" r="4.5"/><circle cx="535.94" cy="950.88" r="4.5"/><circle cx="542.94" cy="952.88" r="4.5"/><circle cx="539.94" cy="957.87" r="4.5"/><circle cx="531.95" cy="966.86" r="4.5"/><circle cx="538.94" cy="967.86" r="4.5"/><circle cx="548.93" cy="962.87" r="4.5"/><circle cx="550.93" cy="958.87" r="4.5"/><circle cx="555.92" cy="969.86" r="4.5"/><circle cx="557.92" cy="961.87" r="4.5"/><circle cx="563.92" cy="957.87" r="4.5"/><circle cx="566.91" cy="962.87" r="4.5"/><circle cx="567.91" cy="967.86" r="4.5"/><circle cx="577.9" cy="962.87" r="4.5"/><circle cx="573.91" cy="967.86" r="4.5"/><circle cx="580.9" cy="969.86" r="4.5"/><circle cx="583.9" cy="975.85" r="4.5"/><circle cx="589.89" cy="978.85" r="4.5"/><circle cx="591.89" cy="966.86" r="4.5"/><circle cx="587.89" cy="968.86" r="4.5"/><circle cx="599.88" cy="975.85" r="4.5"/><circle cx="608.87" cy="970.86" r="4.5"/><circle cx="610.87" cy="978.85" r="4.5"/><circle cx="619.86" cy="978.85" r="4.5"/><circle cx="631.85" cy="977.85" r="4.5"/><circle cx="634.85" cy="974.86" r="4.5"/><circle cx="643.84" cy="975.85" r="4.5"/><circle cx="648.83" cy="971.86" r="4.5"/><circle cx="658.82" cy="973.86" r="4.5"/><circle cx="660.82" cy="960.87" r="4.5"/><circle cx="670.81" cy="956.87" r="4.5"/><circle cx="677.8" cy="957.87" r="4.5"/><circle cx="671.81" cy="967.86" r="4.5"/><circle cx="676.8" cy="969.86" r="4.5"/><circle cx="677.8" cy="975.85" r="4.5"/><circle cx="653.83" cy="985.84" r="4.5"/><circle cx="639.84" cy="983.85" r="4.5"/><circle cx="637.84" cy="989.84" r="4.5"/><circle cx="625.85" cy="990.84" r="4.5"/><circle cx="612.87" cy="987.84" r="4.5"/><circle cx="606.87" cy="991.84" r="4.5"/><circle cx="597.88" cy="991.84" r="4.5"/><circle cx="575.9" cy="982.85" r="4.5"/><circle cx="561.92" cy="986.84" r="4.5"/><circle cx="545.93" cy="976.85" r="4.5"/><circle cx="618.86" cy="998.83" r="4.5"/><circle cx="615.86" cy="1004.83" r="4.5"/><circle cx="627.85" cy="1003.83" r="4.5"/><circle cx="601.88" cy="1006.82" r="4.5"/><circle cx="604.88" cy="1014.82" r="4.5"/><circle cx="646.83" cy="996.83" r="4.5"/><circle cx="664.82" cy="992.84" r="4.5"/><circle cx="667.81" cy="995.83" r="4.5"/><circle cx="668.81" cy="1005.82" r="4.5"/><circle cx="653.83" cy="1016.81" r="4.5"/><circle cx="701.97" cy="942.94" r="4.5"/><circle cx="671" cy="956.92" r="4.5"/><circle cx="681.99" cy="957.92" r="4.5"/><circle cx="688.98" cy="964.92" r="4.5"/><circle cx="698.97" cy="961.92" r="4.5"/><circle cx="674" cy="969.91" r="4.5"/><circle cx="678.99" cy="975.9" r="4.5"/><circle cx="686.98" cy="973.91" r="4.5"/><circle cx="691.98" cy="975.9" r="4.5"/><circle cx="694.98" cy="972.91" r="4.5"/><circle cx="699.97" cy="970.91" r="4.5"/><circle cx="682.99" cy="987.89" r="4.5"/><circle cx="706.96" cy="981.9" r="4.5"/><circle cx="711.96" cy="984.9" r="4.5"/><circle cx="717.95" cy="981.9" r="4.5"/><circle cx="722.95" cy="977.9" r="4.5"/><circle cx="708.96" cy="992.89" r="4.5"/><circle cx="716.95" cy="992.89" r="4.5"/><circle cx="703.97" cy="999.88" r="4.5"/><circle cx="671" cy="994.89" r="4.5"/><circle cx="671" cy="1005.87" r="4.5"/><circle cx="720.95" cy="955.92" r="4.5"/><circle cx="724.95" cy="960.92" r="4.5"/><circle cx="729.94" cy="957.92" r="4.5"/><circle cx="727.94" cy="966.91" r="4.5"/><circle cx="741.93" cy="965.91" r="4.5"/><circle cx="735.93" cy="972.91" r="4.5"/><circle cx="731.94" cy="979.9" r="4.5"/><circle cx="739.93" cy="982.9" r="4.5"/><circle cx="746.92" cy="977.9" r="4.5"/><circle cx="749.92" cy="967.91" r="4.5"/><circle cx="748.92" cy="960.92" r="4.5"/><circle cx="753.92" cy="969.91" r="4.5"/><circle cx="756.91" cy="971.91" r="4.5"/><circle cx="761.91" cy="938.94" r="4.5"/><circle cx="758.91" cy="948.93" r="4.5"/><circle cx="763.91" cy="949.93" r="4.5"/><circle cx="769.9" cy="950.93" r="4.5"/><circle cx="773.9" cy="938.94" r="4.5"/><circle cx="778.89" cy="934.95" r="4.5"/><circle cx="771.9" cy="944.94" r="4.5"/><circle cx="779.89" cy="943.94" r="4.5"/><circle cx="776.89" cy="950.93" r="4.5"/><circle cx="786.88" cy="939.94" r="4.5"/><circle cx="791.88" cy="938.94" r="4.5"/><circle cx="797.87" cy="939.94" r="4.5"/><circle cx="789.88" cy="945.93" r="4.5"/><circle cx="793.88" cy="950.93" r="4.5"/><circle cx="799.87" cy="950.93" r="4.5"/><circle cx="803.87" cy="943.94" r="4.5"/><circle cx="807.86" cy="948.93" r="4.5"/><circle cx="814.86" cy="947.93" r="4.5"/><circle cx="811.86" cy="954.93" r="4.5"/><circle cx="767.9" cy="969.91" r="4.5"/><circle cx="764.91" cy="965.91" r="4.5"/><circle cx="783.89" cy="961.92" r="4.5"/><circle cx="816.85" cy="966.91" r="4.5"/><circle cx="810.86" cy="977.9" r="4.5"/><circle cx="821.85" cy="976.9" r="4.5"/><circle cx="817.85" cy="982.9" r="4.5"/><circle cx="823.85" cy="982.9" r="4.5"/><circle cx="825.84" cy="990.89" r="4.5"/><circle cx="827.84" cy="952.93" r="4.5"/><circle cx="830.84" cy="959.92" r="4.5"/><circle cx="833.84" cy="955.92" r="4.5"/><circle cx="838.83" cy="945.93" r="4.5"/><circle cx="840.83" cy="952.93" r="4.5"/><circle cx="845.82" cy="964.92" r="4.5"/><circle cx="850.82" cy="967.91" r="4.5"/><circle cx="848.82" cy="971.91" r="4.5"/><circle cx="845.82" cy="976.9" r="4.5"/><circle cx="835.83" cy="928.95" r="4.5"/><circle cx="853.82" cy="929.95" r="4.5"/><circle cx="861.81" cy="925.95" r="4.5"/><circle cx="863.81" cy="929.95" r="4.5"/><circle cx="855.81" cy="932.95" r="4.5"/><circle cx="858.81" cy="939.94" r="4.5"/><circle cx="835.46" cy="928.97" r="4.5"/><circle cx="852.95" cy="929.97" r="4.5"/><circle cx="854.95" cy="932.97" r="4.5"/><circle cx="860.94" cy="925.97" r="4.5"/><circle cx="863.44" cy="929.97" r="4.5"/><circle cx="859.44" cy="940.96" r="4.5"/><circle cx="856.94" cy="943.96" r="4.5"/><circle cx="838.46" cy="945.45" r="4.5"/><circle cx="840.46" cy="952.95" r="4.5"/><circle cx="832.97" cy="956.94" r="4.5"/><circle cx="828.97" cy="959.94" r="4.5"/><circle cx="826.97" cy="952.45" r="4.5"/><circle cx="830.97" cy="951.95" r="4.5"/><circle cx="813.99" cy="947.95" r="4.5"/><circle cx="811.99" cy="954.95" r="4.5"/><circle cx="807.49" cy="948.95" r="4.5"/><circle cx="803" cy="943.96" r="4.5"/><circle cx="800.5" cy="951.95" r="4.5"/><circle cx="816.48" cy="966.43" r="4.5"/><circle cx="810.49" cy="977.42" r="4.5"/><circle cx="821.48" cy="975.92" r="4.5"/><circle cx="823.48" cy="983.92" r="4.5"/><circle cx="817.48" cy="983.92" r="4.5"/><circle cx="825.47" cy="991.41" r="4.5"/><circle cx="843.96" cy="964.94" r="4.5"/><circle cx="850.45" cy="967.43" r="4.5"/><circle cx="848.45" cy="971.93" r="4.5"/><circle cx="846.45" cy="976.92" r="4.5"/><circle cx="841.46" cy="976.92" r="4.5"/></g>
<polyline points="133,861.9 140,863.9 150,867.9 160,868.9 172,866.9 186,863.9 200,859.9 216,860.9 231.9,858.9 243.9,855.9 251.9,849.9 259.9,841.9 267.9,837.9 275.8,832.9 285.8,827.9 295.8,823 309.8,820 320,818 332,815.8 348,811.8 364,811 380,805.9 396,804.7 411.7,796.7 419.7,797.9 435.7,793.9 451.7,787 467.6,787 483.6,788 496,787.9 512,791 528,788.7 544,781.9 560,771 576,761.9 592,755.9 616,751.9 640,749.9 652,749.9 664,752.7 680,749.9 700,743.9 716,734 731.7,725.9 751.7,721.9 767.7,723.9 783.7,721.9 799.7,721.9 815.7,720.7 827.7,721.9 841.6,721.9 851.6,728 863.6,740 871.6,743.9" fill="none" stroke="#a00000" stroke-width="3" stroke-linecap="butt" stroke-linejoin="round"/>
<polyline points="133,816 142,819 154,817 164,817 178,819 196,821 210,819 225.9,816 239.9,814 249.9,810 259.9,804 271.8,796 287.8,790 303.8,789 320,790 332,791.9 348,785.9 372,781.9 396,777.9 411.7,769.9 427.7,759.9 443.7,755.9 467.6,755.9 484,755.9 504,748.7 528,745.9 552,743.9 568,737.9 584,731.1 600,725.1 612,723.1 632,726 652,723.1 676,720.7 696,719.1 712,718 727.7,710.7 743.7,704.8 767.7,701.2 799.7,700.8 815.7,698.8 827.7,696.8 847.6,696 859.6,700 871.6,704" fill="none" stroke="#a00000" stroke-width="3" stroke-linecap="round" stroke-linejoin="round" stroke-dasharray="9 12"/>
<rect x="110.3" y="1085.3" width="353.4" height="73.2" fill="#d9d9d9"/>
<g fill="#000"><circle cx="146.3" cy="1103.5" r="5"/></g>
<g fill="#fff" stroke="#1e1e1e" stroke-width="1.3"><circle cx="323.2" cy="1103.5" r="4.5"/></g>
<text x="178" y="1110" font-size="18.3" textLength="93.2" lengthAdjust="spacingAndGlyphs">Pre DFA a1</text>
<text x="355.3" y="1110" font-size="18.3" textLength="101.5" lengthAdjust="spacingAndGlyphs">Post DFA a1</text>
<line x1="120.8" y1="1141.2" x2="172.3" y2="1141.2" stroke="#a00000" stroke-width="3" stroke-linecap="round"/>
<line x1="297.8" y1="1141.4" x2="348.5" y2="1141.4" stroke="#a00000" stroke-width="3" stroke-dasharray="9 12" stroke-linecap="round"/>
<text x="178" y="1146.9" font-size="18.3" textLength="58.2" lengthAdjust="spacingAndGlyphs">Pre HR</text>
<text x="355.3" y="1146.9" font-size="18.3" textLength="67" lengthAdjust="spacingAndGlyphs">Post HR</text>
<line x1="102.1" y1="1312.9" x2="918" y2="1312.9" stroke="#b9b9b9" stroke-width="1.7" />
<line x1="95.6" y1="1312.9" x2="102.1" y2="1312.9" stroke="#b9b9b9" stroke-width="1.7" />
<line x1="102.1" y1="1440.85" x2="918" y2="1440.85" stroke="#b9b9b9" stroke-width="1.7" />
<line x1="95.6" y1="1440.85" x2="102.1" y2="1440.85" stroke="#b9b9b9" stroke-width="1.7" />
<line x1="102.1" y1="1568.8" x2="918" y2="1568.8" stroke="#b9b9b9" stroke-width="1.7" />
<line x1="95.6" y1="1568.8" x2="102.1" y2="1568.8" stroke="#b9b9b9" stroke-width="1.7" />
<line x1="102.1" y1="1696.75" x2="918" y2="1696.75" stroke="#b9b9b9" stroke-width="1.7" />
<line x1="95.6" y1="1696.75" x2="102.1" y2="1696.75" stroke="#b9b9b9" stroke-width="1.7" />
<line x1="102.1" y1="1824.7" x2="918" y2="1824.7" stroke="#b9b9b9" stroke-width="1.7" />
<line x1="95.6" y1="1824.7" x2="102.1" y2="1824.7" stroke="#b9b9b9" stroke-width="1.7" />
<line x1="218.66" y1="1312.9" x2="218.66" y2="1824.7" stroke="#b9b9b9" stroke-width="1.7" />
<line x1="218.66" y1="1824.7" x2="218.66" y2="1831" stroke="#b9b9b9" stroke-width="1.7" />
<line x1="335.22" y1="1312.9" x2="335.22" y2="1824.7" stroke="#b9b9b9" stroke-width="1.7" />
<line x1="335.22" y1="1824.7" x2="335.22" y2="1831" stroke="#b9b9b9" stroke-width="1.7" />
<line x1="451.78" y1="1312.9" x2="451.78" y2="1824.7" stroke="#b9b9b9" stroke-width="1.7" />
<line x1="451.78" y1="1824.7" x2="451.78" y2="1831" stroke="#b9b9b9" stroke-width="1.7" />
<line x1="568.34" y1="1312.9" x2="568.34" y2="1824.7" stroke="#b9b9b9" stroke-width="1.7" />
<line x1="568.34" y1="1824.7" x2="568.34" y2="1831" stroke="#b9b9b9" stroke-width="1.7" />
<line x1="684.9" y1="1312.9" x2="684.9" y2="1824.7" stroke="#b9b9b9" stroke-width="1.7" />
<line x1="684.9" y1="1824.7" x2="684.9" y2="1831" stroke="#b9b9b9" stroke-width="1.7" />
<line x1="801.46" y1="1312.9" x2="801.46" y2="1824.7" stroke="#b9b9b9" stroke-width="1.7" />
<line x1="801.46" y1="1824.7" x2="801.46" y2="1831" stroke="#b9b9b9" stroke-width="1.7" />
<line x1="102.1" y1="1312.9" x2="102.1" y2="1831" stroke="#b9b9b9" stroke-width="1.7" />
<line x1="918" y1="1312.9" x2="918" y2="1824.7" stroke="#b9b9b9" stroke-width="1.7" />
<line x1="918" y1="1312.9" x2="924.5" y2="1312.9" stroke="#b9b9b9" stroke-width="1.7" />
<line x1="918" y1="1415.26" x2="924.5" y2="1415.26" stroke="#b9b9b9" stroke-width="1.7" />
<line x1="918" y1="1517.62" x2="924.5" y2="1517.62" stroke="#b9b9b9" stroke-width="1.7" />
<line x1="918" y1="1619.98" x2="924.5" y2="1619.98" stroke="#b9b9b9" stroke-width="1.7" />
<line x1="918" y1="1722.34" x2="924.5" y2="1722.34" stroke="#b9b9b9" stroke-width="1.7" />
<line x1="918" y1="1824.7" x2="924.5" y2="1824.7" stroke="#b9b9b9" stroke-width="1.7" />
<text x="83" y="1318.1" font-size="18.3" text-anchor="end" textLength="36.8" lengthAdjust="spacingAndGlyphs">1,25</text>
<text x="83" y="1446.05" font-size="18.3" text-anchor="end" textLength="36.8" lengthAdjust="spacingAndGlyphs">1,00</text>
<text x="83" y="1574" font-size="18.3" text-anchor="end" textLength="36.8" lengthAdjust="spacingAndGlyphs">0,75</text>
<text x="83" y="1701.95" font-size="18.3" text-anchor="end" textLength="36.8" lengthAdjust="spacingAndGlyphs">0,50</text>
<text x="83" y="1829.9" font-size="18.3" text-anchor="end" textLength="36.8" lengthAdjust="spacingAndGlyphs">0,25</text>
<text x="937.3" y="1318.7" font-size="19.2" textLength="30.8" lengthAdjust="spacingAndGlyphs">250</text>
<text x="937.3" y="1421.06" font-size="19.2" textLength="30.8" lengthAdjust="spacingAndGlyphs">200</text>
<text x="937.3" y="1523.42" font-size="19.2" textLength="30.8" lengthAdjust="spacingAndGlyphs">150</text>
<text x="937.3" y="1625.78" font-size="19.2" textLength="30.8" lengthAdjust="spacingAndGlyphs">100</text>
<text x="937.3" y="1728.14" font-size="19.2" textLength="21.5" lengthAdjust="spacingAndGlyphs">50</text>
<text x="937.3" y="1830.5" font-size="19.2">0</text>
<text x="102.1" y="1857.2" font-size="18.3" text-anchor="middle" textLength="37" lengthAdjust="spacingAndGlyphs">0:00</text>
<text x="218.66" y="1857.2" font-size="18.3" text-anchor="middle" textLength="37" lengthAdjust="spacingAndGlyphs">0:07</text>
<text x="335.22" y="1857.2" font-size="18.3" text-anchor="middle" textLength="37" lengthAdjust="spacingAndGlyphs">0:14</text>
<text x="451.78" y="1857.2" font-size="18.3" text-anchor="middle" textLength="37" lengthAdjust="spacingAndGlyphs">0:21</text>
<text x="568.34" y="1857.2" font-size="18.3" text-anchor="middle" textLength="37" lengthAdjust="spacingAndGlyphs">0:28</text>
<text x="684.9" y="1857.2" font-size="18.3" text-anchor="middle" textLength="37" lengthAdjust="spacingAndGlyphs">0:36</text>
<text x="801.46" y="1857.2" font-size="18.3" text-anchor="middle" textLength="37" lengthAdjust="spacingAndGlyphs">0:43</text>
<text x="457.5" y="1886.3" font-size="18.3" font-weight="bold" textLength="110" lengthAdjust="spacingAndGlyphs">Time [h:min]</text>
<text x="27" y="1569.5" font-size="18.3" text-anchor="middle" font-weight="bold" textLength="59.6" lengthAdjust="spacingAndGlyphs" transform="rotate(-90 27 1569.5)">DFA a1</text>
<text x="994" y="1576.3" font-size="18.3" text-anchor="middle" font-weight="bold" textLength="213" lengthAdjust="spacingAndGlyphs" transform="rotate(-90 994 1576.3)">HR [bpm], Power [watts]</text>
<text x="2.5" y="1292.6" font-size="42" font-weight="bold">C</text>
<text x="918" y="1857.2" font-size="18.3" text-anchor="middle" textLength="37" lengthAdjust="spacingAndGlyphs">0:50</text>
<line x1="918" y1="1824.7" x2="918" y2="1831" stroke="#b9b9b9" stroke-width="1.7" />
<polyline points="122.99,1581.53 122.57,1579.08 123.4,1576.26 122.11,1573.95 121.79,1571.14 124.03,1573.37 127.78,1575.54 127.29,1573.31 125.21,1569.21 125.38,1566.75 128.98,1567.95 128,1566.02 129.45,1561.52 128.98,1559.95 130.4,1558.4 129.88,1554.9 128.96,1550.79 130.11,1548.24 129.57,1546.01 130.58,1543.96 129.67,1541.26 130.88,1539.55 131.29,1536.44 131.47,1533.87 131.59,1530.33 133.11,1529.43 132.95,1526.12 131.91,1522.36 132.58,1520.38 132.34,1516.69 133.75,1514.82 134.21,1512.12 134.74,1510.56 132.71,1506.36 134.18,1504.4 133.98,1503.94 135.23,1501.2 135.66,1498.36 133.75,1496.26 135.71,1492.73 134.32,1490.22 135.58,1487.95 137.22,1485.91 135.72,1482.02 137.17,1479.96 136.06,1475.71 136.85,1473.57 138.25,1470.2 138.36,1468.25 138.15,1466.33 139.57,1463.18 139.22,1460.86 139.72,1457.66 141.17,1455.19 141.68,1451.44 143.57,1448.79 144.96,1452.05 143.63,1454.78 143.67,1456.13 145.48,1459.26 143.94,1462.62 145.17,1463.98 145.54,1466.06 147.95,1468.89 148.36,1471.97 148.67,1473.61 148.98,1477.5 150.76,1479.96 150.68,1482.87 151.52,1485.18 152.36,1487.95 153.66,1490.51 152.94,1494.03 152.2,1494.92 153.16,1498.34 156.36,1501.54 157.74,1505.5 157.15,1507.93 157.15,1504.49 158.93,1503.6 158.22,1500.92 160.47,1497.39 159.96,1493.5 159.64,1492.86 160.72,1489.54 161.95,1486.36 161.9,1490.06 163.25,1491.72 163.55,1495.15 162.77,1499.27 163.55,1502.34 162.78,1504.35 164.22,1508.51 164.35,1510.33 164.89,1513 165.88,1516.02 165.15,1519.92 164.25,1522.57 165.55,1525.26 165.95,1529.51 165.33,1531.76 166.44,1533.74 166.09,1538.12 167.74,1540.12 166.75,1542.3 167.84,1539.79 167.16,1535.75 167.51,1535.13 169.79,1532.54 169.94,1528.71 169.02,1526.53 170.36,1524.24 170.19,1522.38 169.84,1518.78 171.65,1517.12 171.88,1514.13 171.54,1511.13 172.64,1514.73 171.98,1516.77 173.7,1519.81 173.14,1521.52 173.21,1524.88 174.54,1527.02 173.94,1529.51 174.5,1531.9 174.67,1535.1 174.74,1537.51 174.13,1541.44 175.54,1544.7 177.32,1548.41 177.28,1550.03 177.9,1553.29 177.93,1555.89 178.19,1554.17 177.74,1551.43 178.01,1548.54 179.49,1545.12 180.41,1543.23 180.33,1540.7 183.53,1543.9 184.34,1542.25 184.01,1537.4 185.13,1535.91 186.25,1533.94 187.61,1530.32 189.92,1528.71 191.06,1526.38 190.1,1524.22 189.99,1520.96 189.84,1517.68 190.72,1515.13 192.58,1513.88 193.87,1510.37 194.28,1507.97 194.33,1506.17 196.32,1503.94 197.93,1508.37 197.92,1511.13 199.22,1515.81 199.51,1518.32 199.78,1520.19 200.99,1523.11 201.91,1526.32 202.42,1528.91 204.31,1531.91 203.55,1534.83 201.74,1538.59 201.11,1540.7 202.84,1538.08 201.23,1534.56 203.72,1532.07 203.9,1530.83 203.51,1528.84 203.38,1524.76 205.11,1523.12 205.8,1519.58 207.5,1517.69 206.64,1514.84 208.31,1513.53 209.41,1516.07 210.22,1519.23 210.7,1521.52 212.64,1525.82 213.1,1527.92 214.08,1530.12 214.11,1533.01 214.7,1536.71 213.92,1540.24 215.5,1543.9 216.28,1545.79 215.49,1548.86 216.3,1551.89 217.04,1554.61 217.11,1557.84 217.1,1559.88 217.11,1563.25 218.6,1564.22 217.9,1567.88 219.2,1571.08 217.54,1573.09 218.7,1575.87 219,1579.52 218.4,1581.36 218.7,1583.86 220.14,1587.24 220.83,1589.1 220.29,1591.85 221.19,1593.81 221.89,1597.95 221.89,1599.85 222.51,1603.1 221.77,1606.27 223.89,1609.19 223.11,1611.47 222.87,1614.49 223.59,1616.24 225.77,1618.27 225.25,1620.89 227.58,1623.43 229.3,1621.28 230.78,1617.84 232.35,1613.51 233.98,1611.45 235.78,1607.73 236.83,1605.33 237.17,1603.45 237.98,1600.95 239.57,1597.06 239.11,1593.55 240.41,1592.27 241.59,1589.52 242.24,1586.38 242.65,1582.74 241.97,1581.07 241.64,1578.4 242.15,1576.14 243.33,1572.91 244.16,1570.26 243.23,1567.09 244.85,1565.59 244.37,1561.89 244.01,1559.99 246.18,1556.47 245.57,1552.95 245.82,1550.94 246.33,1547.06 247.55,1545.49 246.76,1542.71 246.98,1540.92 247.83,1537.67 248.59,1534.13 248.68,1532.46 250.14,1531.17 248.95,1527.58 249.96,1525.13 249.55,1522.09 251.68,1520.33 251.34,1516.06 251.14,1513.9 252.36,1510.74 253.65,1507.19 253.56,1504.27 252.42,1502.09 253.87,1499.66 253.34,1497.71 253.01,1495.31 253.32,1492.12 253.89,1488.7 254.76,1486.76 255.36,1483.95 255.52,1481.23 256.36,1478.77 256.83,1475.16 256.44,1473.49 257.89,1470.45 257.95,1467.58 260.13,1464.92 261.47,1461.08 261.95,1458.79 263.59,1461.93 265.05,1463.15 265.15,1465.98 264.97,1469.66 265,1472.51 266.88,1473.1 265.59,1477.18 265.9,1478.34 266.75,1481.97 267.81,1484.45 267.97,1486.4 267.31,1490.41 266.65,1491.91 268.52,1496.28 268.34,1497.95 270.27,1500.23 269.96,1504.97 270.74,1507.54 271.55,1510.65 271.59,1511.84 273.14,1515.54 272.46,1517.09 273.8,1520.9 274.1,1522.68 273.45,1525.48 275.29,1530.03 274.74,1531.52 277.09,1533.21 276.35,1537.93 278.73,1539.51 279.84,1542.55 280.72,1544.23 282.37,1546.54 283.53,1549.1 284.04,1550.6 284.54,1555.26 283.56,1556.99 285.17,1559.53 284.13,1561.62 285.13,1565.09 285.64,1566.8 287.03,1571.57 287.06,1574.59 287.36,1576.37 287.53,1579.48 288.56,1582.15 290.28,1585.54 289.92,1587.47 288.54,1592.05 288.32,1594.66 290.51,1592.93 292.28,1589.64 293.12,1587.47 295.94,1591.04 297.32,1593.44 298.71,1595.46 298.55,1597.63 297.65,1599.23 296.32,1602.65 298.73,1603.78 301.91,1605.05 301,1607.37 302.78,1610.68 302.71,1613.04 302.87,1616.51 304.71,1617.45 305.49,1620.4 305.91,1622.63 307.99,1619.97 309.9,1617.84 312.44,1620.31 313.05,1622.73 313.9,1624.23 314.7,1619.44 318.65,1619.49 320.29,1621.84 321.9,1620.01 322.37,1616.8 324.29,1614.64 324.01,1616.58 325.59,1619.01 326.69,1622.63 326.89,1626.01 328.41,1627.45 330.21,1629.99 329.88,1632.23 332.14,1629.89 332.76,1625.88 333.08,1624.23 334.91,1622.86 335.19,1621.27 337.06,1618.17 339.48,1616.24 339.48,1619.83 341.07,1623.43 341.61,1625.04 342.68,1628.57 341.87,1631.43 343,1634.06 343.68,1635.71 345.07,1638.62 347.44,1641.16 349.07,1643.41 349.35,1640.34 350.66,1636.22 352.17,1632.26 354.66,1630.63 354.37,1632.25 354.48,1636.67 355.36,1639.73 356.54,1640.42 356.26,1644.21 358.23,1642.48 357.86,1638.62 357.63,1636.93 359.29,1633.24 360.26,1630.63 364.25,1632.23 365.71,1628.73 364.95,1627.52 365.75,1623.52 366.68,1621.48 365.85,1617.84 366.37,1614.25 366.68,1612.4 365.94,1608.77 366.98,1606.28 367.05,1604.92 367.45,1601.85 367.5,1598.73 367.97,1596.55 368.6,1594.26 369.28,1592.71 368.25,1589.07 369.08,1585.77 367.85,1584.68 369.05,1581.07 370.98,1578.71 371.2,1575.2 372.79,1573.08 374.03,1570.04 374.39,1566.69 375.41,1570.2 375.98,1573.08 378.19,1575.53 379.18,1579.48 379.78,1578.23 381.58,1574.68 384.58,1573.99 385.58,1571.48 385.8,1572.56 387.69,1575.57 389.57,1577.88 391.87,1578.52 393.57,1581.07 394.2,1582.71 393.64,1586.83 395.17,1589.07 395.82,1592.05 395.93,1594.34 396.76,1597.06 396.47,1600.28 397.56,1604.25 400.15,1603.07 401.56,1600.26 402.14,1602.01 405.5,1605.88 406.36,1608.25 408.6,1610.36 409.55,1613.84 409.9,1615.93 411.36,1618.86 411.15,1621.84 411.79,1625.67 411.26,1627.28 411.95,1629.83 413.07,1633.5 412.84,1634.84 413.55,1637.82 413.38,1641.12 415.15,1642.62 414.54,1638.02 415.95,1635.42 416.37,1632.72 416.92,1629.61 416.75,1627.43 417.94,1623.75 417.12,1622.49 418.34,1619.44 417.61,1616.3 419.42,1614.57 419.14,1611.45 418.89,1607.92 419.33,1606.66 419.94,1603.45 419.62,1599.87 420.44,1598.29 419.94,1595.46 421.08,1593.85 421.2,1589.98 421.07,1587 420.04,1584.56 421.65,1583.09 420.74,1579.48 420.4,1576.48 420.95,1573.82 421.54,1571.48 421.82,1568.55 421.87,1566.31 423.14,1563.49 424.12,1560.92 424.48,1558.31 423.94,1555.5 423.96,1553.72 425.54,1550.7 427.65,1546.98 427.93,1544.31 431.93,1542.71 431.58,1545.41 433.64,1548.2 434.33,1550.7 435.98,1553.73 436.12,1554.99 435.93,1558.7 436.84,1562.05 436.53,1563.02 438.32,1566.69 439.85,1564.93 439.25,1561.58 440.35,1559.13 442.52,1555.21 443.12,1553.1 443.51,1556.14 445.3,1558.53 446.32,1560.29 449.51,1563.49 452.71,1566.69 454.06,1569.5 455.91,1573.08 454.31,1574.68 456.77,1572.43 456.96,1569.44 458.31,1566.69 459.1,1564.52 459.83,1561.15 459.89,1559.1 460.22,1556.77 460.44,1554.3 459.9,1550.7 461.27,1548.38 460.49,1545.88 460.7,1542.71 461.7,1539.86 461.05,1536.53 461.5,1534.72 462.35,1533.23 461.74,1528.59 462.3,1526.73 461.86,1523.88 462.34,1522.53 463.1,1518.73 462.84,1515.08 464.7,1512.34 464.57,1509.5 466.3,1505.95 467.49,1502.51 466.31,1500.52 467.9,1497.95 468.36,1496.27 467.32,1491.69 468.7,1489.96 468.2,1486.62 468.59,1485.15 469.49,1481.97 470.26,1478.64 469.8,1476.12 471.09,1473.98 471.11,1471 472.69,1466.78 472.77,1464.24 474.52,1461.41 474.29,1458.79 474.51,1457.06 476.88,1453.08 476.69,1450.8 477.97,1447.44 479.04,1451.02 479.88,1452.4 481.04,1454.93 482.28,1458.79 483.2,1462.26 486.28,1463.59 483.88,1466.78 486.2,1468.51 487.08,1470.78 487.94,1474.41 488.68,1477.97 488.4,1481.81 489.59,1482.67 489.48,1485.97 488.57,1488.56 489.7,1492.01 490.27,1493.96 491.05,1496.88 489.99,1498.46 491.07,1501.95 490.91,1504.04 492.49,1507.32 491.87,1509.94 492.2,1513.79 491.31,1515.35 491.87,1517.93 491.3,1521.25 491.21,1524.03 492.67,1525.93 494.3,1530.3 494.27,1533.12 494.07,1535.76 495.87,1539.51 496.39,1542.14 495.87,1546.71 496.09,1549.3 497.5,1552.24 496.67,1554.7 497.53,1556.89 497.36,1559.83 496.67,1562.69 498.47,1565.31 498.27,1569.88 499.32,1571.85 498.9,1575.27 499.07,1577.88 498.24,1581.6 498.61,1583.28 499.07,1586.67 498.32,1588.87 499.52,1592.51 499.87,1594.66 499.93,1598.71 500.66,1601.85 499.99,1604.26 501.11,1608.3 501.46,1609.85 503.06,1613.84 504.25,1611.61 502.69,1608.35 504.77,1605.42 504.66,1603.45 507.06,1600.26 507.21,1596.96 507.06,1593.86 509.46,1592.26 509.08,1590.25 511.05,1585.87 513.37,1582.77 514.25,1581.07 515.86,1582.7 516.62,1585.43 518.25,1587.47 518.3,1589.74 519.06,1593.2 519.85,1595.46 520.24,1592.08 522.36,1589.72 522.79,1587.47 524.66,1590.02 524.92,1591.86 525.19,1594.66 526.5,1596.35 525.39,1599.02 526.78,1602.65 529.18,1606.65 530.14,1604.49 529.48,1601.09 530.78,1598.66 532.79,1596.08 533.18,1593.06 535.58,1594.66 534.99,1590.41 536.37,1587.47 537.15,1584.17 539.57,1582.67 540.55,1584.44 541.97,1588.27 543.51,1590.76 543.06,1593.95 543.57,1596.26 544.47,1599.69 543.83,1601.18 544.37,1604.25 544.42,1605.75 544.66,1610.06 545.17,1612.24 546.59,1615.6 546.08,1617.83 545.97,1620.24 545.21,1623.43 546.76,1627.43 546.92,1630.99 546.89,1633.53 548.36,1637.02 549.18,1635.32 550.74,1632.49 550.76,1629.83 550.74,1626.87 552.36,1622.63 553.59,1620.09 552.54,1617.31 553.16,1614.64 555.56,1611.45 554.96,1609.29 557.26,1606.16 556.36,1603.45 557.94,1601.86 557.76,1599.73 559.55,1596.26 561.15,1600.26 562.26,1602.19 561.75,1604.97 563.55,1608.25 565.15,1607.45 565.6,1610.59 565.27,1613.81 565.95,1615.44 566.41,1618.95 567.54,1622.63 568.64,1626.17 571.54,1627.43 573.94,1629.83 573.46,1627.2 574.74,1622.63 575.11,1620.12 575.42,1616.74 575.54,1614.64 577.05,1613.16 577.36,1609.56 577.14,1606.65 576.5,1604.76 577.16,1602.27 577.93,1598.66 577.58,1596.17 579.26,1592.57 578.73,1590.66 581.13,1593.86 583.53,1590.66 585.64,1587.65 587.53,1586.67 586.94,1588.57 589.76,1593.05 589.12,1594.66 590.3,1596.6 591.13,1600.03 591.52,1601.85 592.04,1599.68 593.85,1595.9 593.92,1594.66 596.32,1597.06 596.13,1599.65 596.53,1602.11 597.92,1605.05 599.68,1601.07 601.11,1598.66 601.43,1595.43 601.81,1592.93 601.91,1590.66 602.49,1585.96 602.39,1583.47 603.71,1585.02 605.31,1588.51 605.11,1590.66 605.57,1593.12 606.47,1596.45 606.71,1598.66 607.59,1601.93 607.21,1605.17 607.51,1606.65 608.58,1610.17 607.82,1611.82 608.31,1614.64 609.26,1618.01 609.97,1619.5 610.7,1621.84 611.34,1619.21 612.3,1614.64 611.71,1616.45 612.52,1621.36 612.38,1623.51 612.27,1625.68 611.5,1629.03 612.13,1624.4 612.3,1621.84 612.04,1618.83 613.59,1615.83 613.14,1613.67 614.92,1609.7 615.5,1607.45 615.83,1604.53 616.46,1601.08 617.9,1599.46 620.48,1598.58 621.09,1595.46 623.09,1598.74 624.29,1600.26 624.63,1598.32 624.69,1595.52 625.89,1592.26 626.32,1590.57 625.46,1587.64 626.69,1584.27 625.79,1581.7 627.77,1577.74 626.69,1576.28 626.34,1573.13 626.8,1569.9 627.49,1568.29 628.97,1566.38 628.31,1562.61 629.09,1560.29 630.09,1561.6 629.56,1566.05 631.48,1567.49 631.29,1570.15 633.06,1573.96 632.28,1575.48 632.75,1577.44 632.86,1581.82 633.88,1583.47 635.23,1586.34 634.68,1590.66 635.76,1592.98 635.15,1595.21 635.48,1598.66 636.79,1602.84 635.56,1604.97 635.94,1608.56 637.08,1610.65 636.8,1606.1 638.68,1603.45 640.82,1600.21 641.87,1597.86 643.63,1601.14 643.98,1601.78 644.27,1605.05 645.01,1608.77 644.67,1609.37 645.07,1613.04 645.74,1614.71 648.24,1616.58 649.07,1619.44 648.83,1621.47 650.53,1625.46 650.66,1627.43 650.89,1630.48 652.65,1632.97 652.26,1635.42 653.21,1638.14 655.46,1641.82 657.06,1641.82 658.88,1645.81 658.66,1649.01 658.43,1652.19 658.3,1655.86 659.59,1657.54 659.98,1660.28 660.73,1661.78 661.19,1665.54 664.39,1668.73 663.43,1670.61 661.99,1673.53 664.19,1673.46 667.58,1671.93 667.79,1674.61 669.98,1678.32 671.39,1680.11 671.05,1683.24 672.38,1685.52 672.03,1690.07 673.18,1692.71 674.88,1694.26 674.15,1698.64 674.78,1700.7 675.03,1704.4 675.84,1705.26 676.37,1708.7 677.04,1711.71 677.1,1714.4 677.97,1716.69 680.37,1712.69 682.38,1710.6 683.05,1709.26 684.37,1706.3 685.08,1703.68 685.98,1700.19 685.17,1698.31 686.76,1695.91 689.16,1699.1 692.36,1697.51 693.03,1693.11 692.36,1690.31 693.42,1687.01 693.81,1685.64 694.76,1682.32 697.95,1683.12 699.44,1686.22 699.55,1687.92 700.52,1685.49 702.75,1683.12 702.48,1686.91 703.55,1690.31 705.54,1686.8 707.54,1685.52 708.98,1682.84 709.94,1679.12 711.72,1683.22 713.14,1685.52 713.17,1687.48 714.74,1691.11 714.11,1693.77 715.65,1696.3 716.34,1699.1 716.57,1702.22 716.91,1704.88 718.73,1706.3 719.43,1709.07 720.5,1711 720.33,1714.29 721.93,1718.29 721.13,1722.28 725.13,1721.48 728.32,1719.88 732.32,1722.28 736.32,1723.08 737.47,1721.03 740.31,1719.88 739.61,1715.84 741.11,1712.69 744.31,1709.49 744.87,1712.22 744.28,1715.04 745.11,1717.49 744.92,1721.85 746.71,1724.68 746.98,1721.43 748.02,1719.81 749.9,1716.69 751.1,1714.71 749.65,1711.15 750.78,1708.01 752.63,1704.93 751.88,1703.99 752.3,1700.7 753.47,1702.51 752.19,1706.62 752.3,1708.7 752,1710.47 754.84,1712.63 754.7,1715.89 755.24,1717.8 756.12,1719.67 757.1,1723.08 757.58,1727.07 760.29,1728.68 761.73,1731.64 761.24,1732.88 762.69,1735.87 764.81,1738.05 766.69,1741.46 767.13,1739.84 767.43,1735.74 768.29,1733.47 770.64,1730.54 770.68,1727.08 769.85,1724.18 771.58,1720.69 771.48,1719.09 771.91,1716.62 773.96,1713.44 773.88,1710.29 776.14,1712.6 776.29,1715.91 777.88,1717.49 778.39,1714.57 779.48,1710.29 779.33,1707.26 779.78,1705.08 781.07,1702.3 780.53,1698.93 780.92,1696.9 781.87,1694.31 781.41,1691.52 783.06,1689.41 781.87,1686.32 783.28,1682.94 782.66,1679.96 783.47,1678.32 787.47,1680.72 788.46,1677.73 787.99,1674.24 789.07,1672.73 793.06,1670.33 796.26,1667.14 796.3,1662.97 797.86,1659.94 798.13,1658.29 799.44,1654.06 799.46,1651.95 799.92,1653.92 801.05,1657.54 802.37,1659.87 802.23,1663.41 801.85,1665.54 803.1,1667.05 801.96,1670.59 802.65,1673.53 801.65,1677.11 802.23,1679.51 802.65,1681.52 803.1,1684.05 803.45,1688.71 803.46,1690.75 802.88,1693.21 804.25,1696.71 804.75,1698.25 804.33,1701.85 805.05,1704.7 805.42,1706.76 806.08,1709.99 805.85,1713.49 807.56,1710.33 808.18,1706.36 811.43,1703.77 810.58,1700.46 810.9,1699.08 811.43,1695.97 813.15,1697.97 815.32,1700.52 817.18,1703.43 817.27,1707.66 817.75,1704.69 818.54,1701.37 819.05,1700.18 821.17,1697.27 821.98,1695.42 823.61,1691.59 823.12,1689.48 824.18,1687.89 823.73,1684.74 825.06,1681.69 827.01,1682.99 829.04,1681.48 830.26,1677.79 831.36,1674.56 831.01,1671.61 830.91,1670 830.95,1667.14 830.29,1664.53 831.56,1662.21 831.58,1659.6 831.9,1656.19 832.86,1654.42 833.06,1651.76 832.92,1649.62 834.16,1646.62 833.96,1643.05 834.64,1641.24 835.45,1638.83 835.05,1636.43 836.8,1633.76 836.75,1631.04 837.88,1627.3 837.79,1625.52 838.7,1623.25 838.09,1620.42 838.5,1618.04 840,1615.45 842.48,1612.46 844.55,1609.61 844.99,1612.05 845.13,1615.3 847.14,1618.7 849.71,1616.26 850.39,1613.51 850.25,1611.1 850.5,1607.8 851.69,1605.06 852.4,1603.56 852.22,1600.05 852.99,1597.27 856.23,1596.62 858.59,1599.66 859.14,1601.68 860.13,1603.77 861.21,1605.94 862.19,1609.32 864.03,1610.91 865.15,1613.22 865.44,1615 864.68,1618.7 864.02,1621.32 864.65,1623.56 865.32,1626.49 867.77,1628.9 867.92,1632.99 867.62,1634.93 869.22,1637.54 869.22,1640.78 869,1644.46 871.17,1647.92 871.35,1649.89 872.02,1653.48 872.47,1655.71 873.23,1658.61 873.91,1661.7 874.42,1663.51 877.49,1664.73 878.31,1666.75 876.36,1671.3 878.27,1673.85 880.91,1674.55 880.89,1677.66 882.24,1680.19 882.21,1682.34 883.32,1685.71 881.39,1687.82 882.21,1690.13 882.4,1692.88 882.33,1694.81 882.86,1697.92 883.67,1700.82 882.66,1702.95 883.51,1706.36 883.9,1708.03 885.16,1710.34 884.89,1712.63 886.75,1716.1 886.23,1714 886.69,1710.79 888.05,1708.31 888.92,1705.45 887.68,1703.56 888.7,1699.87 890.89,1695.88 891.3,1694.03 891.57,1696.64 893.74,1698.96 893.9,1701.82 898.44,1699.87 899.61,1695.7 899.74,1692.73 900.39,1695.3 899.6,1699.32 900.95,1702.48 900.42,1704.48 900.39,1707.66 901.1,1710.55 901.62,1713.58 901.04,1715.45" fill="none" stroke="#000" stroke-width="3.6" stroke-linecap="round" stroke-linejoin="round" stroke-dasharray="0 7.6"/>
<polyline points="121.2,1504.7 329.8,1407.8 339,1412.5 362.9,1423.6 370.4,1420 386.9,1420 389.9,1421.5 392.9,1420 512.8,1420 518.8,1424.5 527.8,1425.4 533.7,1425.4 536.7,1423.9 545.7,1425.4 554.7,1420 563.7,1420 569.7,1420.9 580,1422 607.2,1427.2 625.9,1427.2 636,1430.6 658.1,1428.9 664.9,1424.5 681.9,1421.4 698.9,1420.4 719.3,1420.4 722.7,1421.4 804.2,1421 845,1420.4 851.7,1423.8 875.5,1423.8 882.3,1420.4 901,1420.4" fill="none" stroke="#000" stroke-width="2.9" stroke-linecap="round" stroke-linejoin="round"/>
<polyline points="121.2,1592.7 127.6,1588.7 142,1588.7 162.7,1586.3 183.5,1582.3 205.9,1580.7 221.9,1576.7 242,1573.1 262.8,1572.3 283.5,1571.5 286.7,1569.9 304.3,1565.1 325.1,1564.3 345.9,1564.3 369.8,1564.3 408,1564.3 427.1,1560.3 449.5,1555.5 459.1,1557.1 468.7,1558.7 481.5,1561.9 497.5,1558.7 516.4,1556.3 524.4,1554.7 535.6,1557.9 543.6,1559.5 556.4,1561.1 564.3,1559.5 573.9,1555.5 605.9,1554.7 621.9,1554.7 634.7,1556.8 663.5,1555.2 684,1554.3 724,1552.7 746.3,1555.9 755.9,1551.9 763.9,1548.8 775.1,1548.8 784.2,1553.6 794,1557.8 801.7,1559.9 813.6,1558.5 822,1557 833.1,1555 842.2,1553.6 852.7,1553.6 862.5,1555 872.3,1557.8 883.5,1557.8 893.3,1557 901.7,1557" fill="none" stroke="#a00000" stroke-width="3" stroke-linecap="round" stroke-linejoin="round" stroke-dasharray="9 12"/>
<rect x="113.3" y="1707.5" width="151.6" height="107.3" fill="#d9d9d9"/>
<line x1="131.2" y1="1725.2" x2="179.5" y2="1725.2" stroke="#000" stroke-width="4" stroke-dasharray="0 7.93" stroke-linecap="round"/>
<line x1="131.6" y1="1761.6" x2="183" y2="1761.6" stroke="#000" stroke-width="3.2" stroke-linecap="round"/>
<line x1="131.9" y1="1797.3" x2="182.5" y2="1797.3" stroke="#a00000" stroke-width="3" stroke-dasharray="9 12" stroke-linecap="round"/>
<text x="189" y="1731.5" font-size="18.3" textLength="60.5" lengthAdjust="spacingAndGlyphs">DFA a1</text>
<text x="189" y="1766.5" font-size="18.3" textLength="54.5" lengthAdjust="spacingAndGlyphs">Power</text>
<text x="189" y="1802.8" font-size="18.3" textLength="25.5" lengthAdjust="spacingAndGlyphs">HR</text>
</svg>
</body></html>
